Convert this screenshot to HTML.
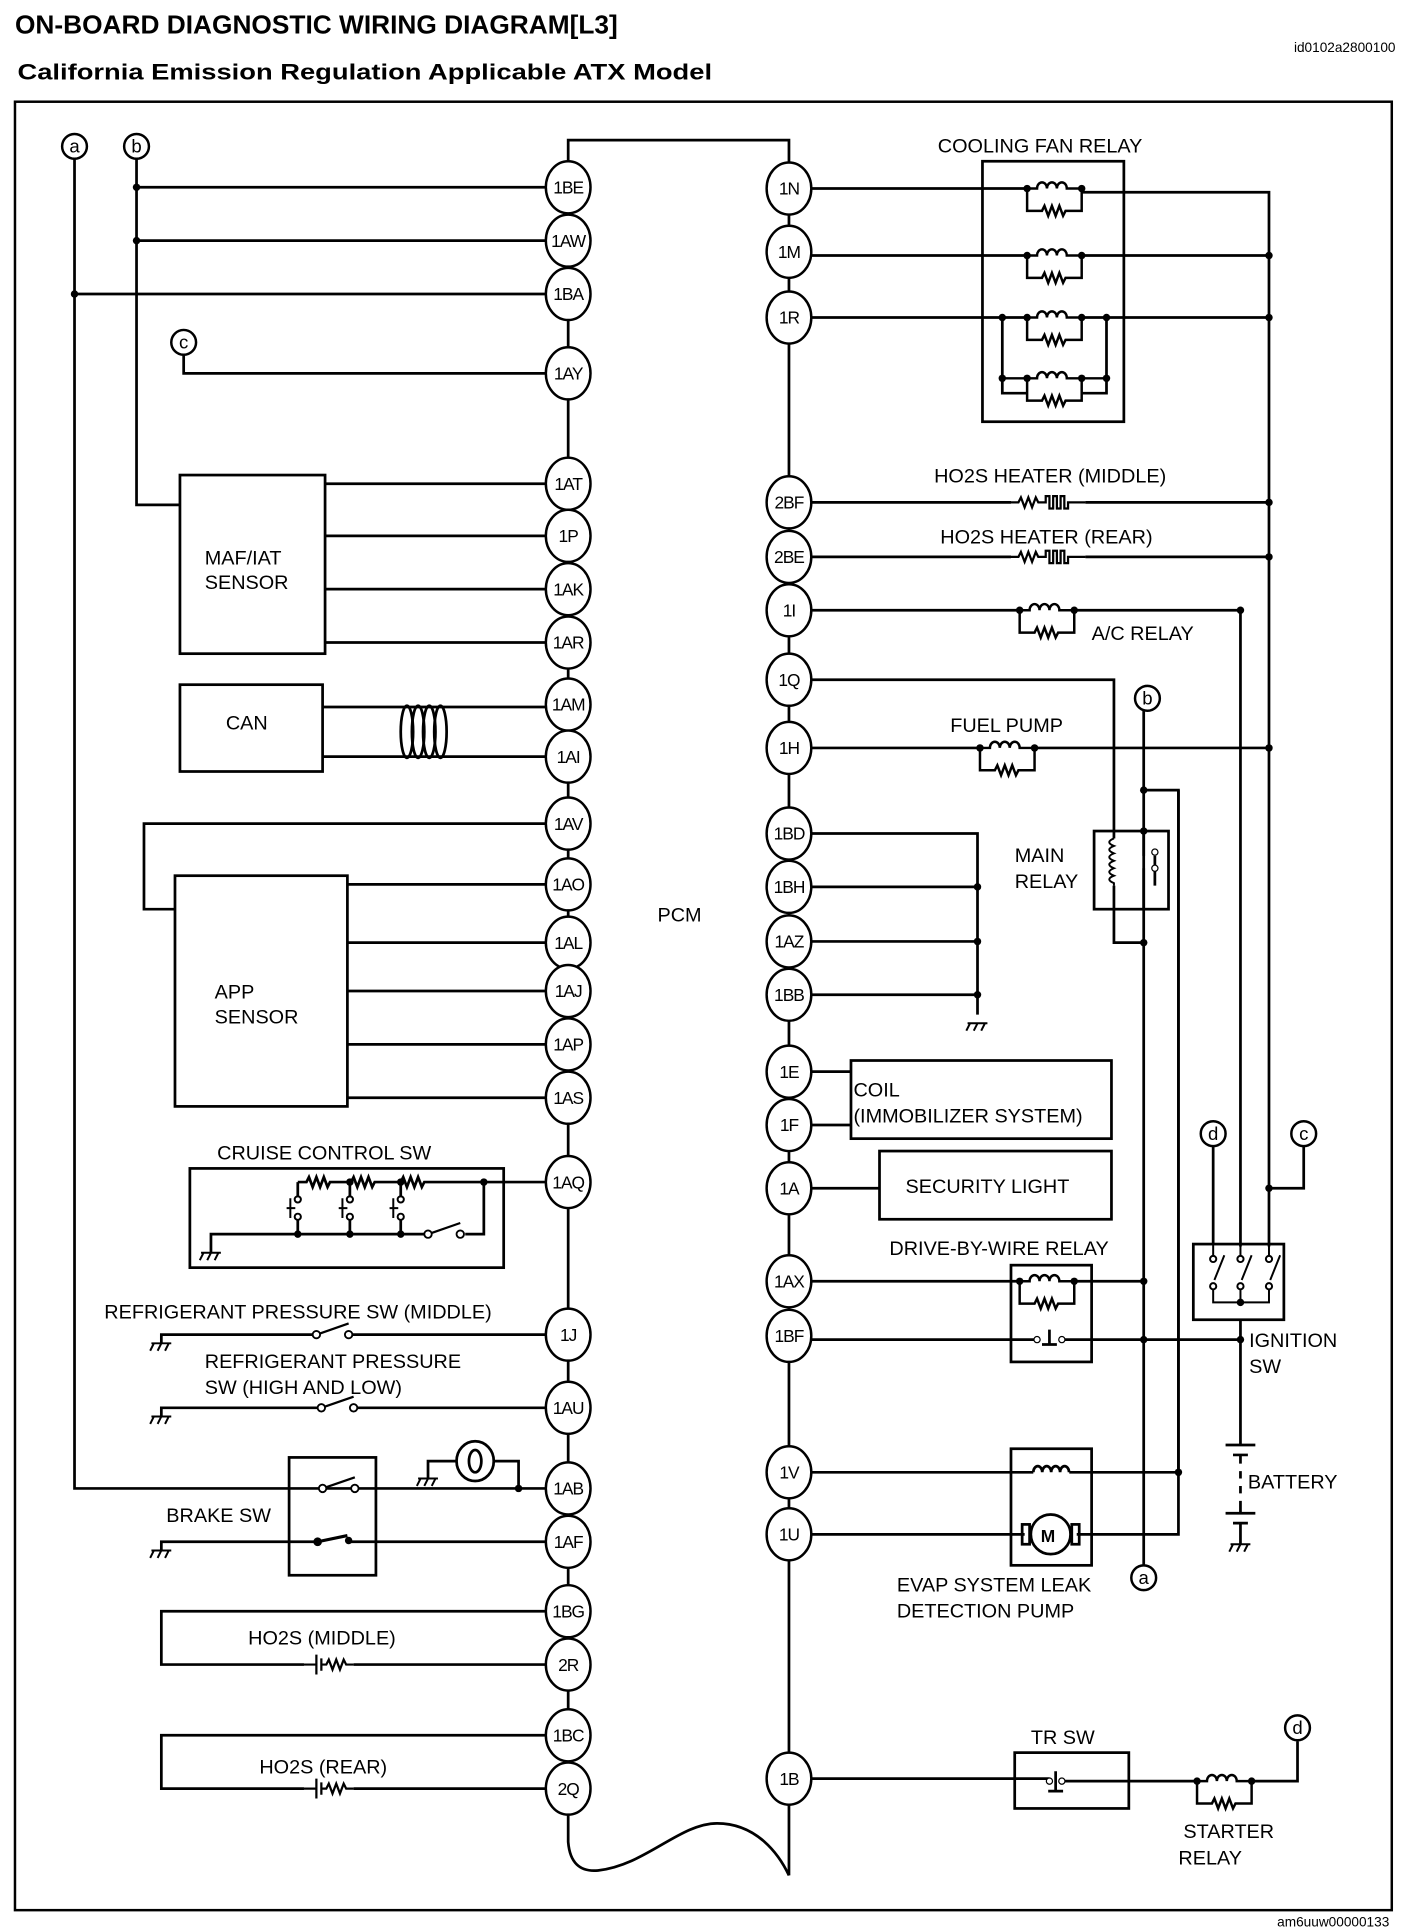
<!DOCTYPE html>
<html><head><meta charset="utf-8"><style>
html,body{margin:0;padding:0;background:#fff}
svg{display:block}
text{font-family:"Liberation Sans",sans-serif;fill:#000}
</style></head><body>
<svg width="1408" height="1930" viewBox="0 0 1135 1556" xmlns="http://www.w3.org/2000/svg">
<defs>
<g id="rel">
<path d="M0,0 H8 a4,5 0 0 1 8,0 a4,5 0 0 1 8,0 a4,5 0 0 1 8,0 H44 M0,0 V18 H12 l2,-4 l3,8 l3,-8 l3,8 l3,-8 l3,8 l2,-4 H44 V0" fill="none" stroke="#000" stroke-width="2"/>
<circle cx="0" cy="0" r="3"/><circle cx="44" cy="0" r="3"/>
</g>
<g id="gnd"><path d="M-8,0 H8 M-6,0 l-3,6 M0,0 l-3,6 M6,0 l-3,6" stroke="#000" stroke-width="1.6" fill="none"/></g>
<g id="htr"><path d="M0,0 H6 l2,-4 l3,8 l3,-8 l3,8 l3,-8 l2,4 H28 v-5 h3 v10 h3 v-10 h3 v10 h3 v-10 h3 v10 h3 v-5 H60" fill="none" stroke="#000" stroke-width="1.8"/></g>
<g id="o2"><path d="M0,0 H10 M10,-8 V8 M14,-5 V5 M14,0 H18 l2,-4 l3,8 l3,-8 l3,8 l3,-8 l2,4 H40" fill="none" stroke="#000" stroke-width="1.8"/></g>
<g id="sw"><circle cx="0" cy="0" r="3" fill="#fff" stroke="#000" stroke-width="1.5"/><circle cx="26" cy="0" r="3" fill="#fff" stroke="#000" stroke-width="1.5"/><path d="M3,-1 L26,-9" stroke="#000" stroke-width="1.8"/></g>
</defs>

<text x="12" y="27" font-size="21" font-weight="bold" textLength="486" lengthAdjust="spacingAndGlyphs">ON-BOARD DIAGNOSTIC WIRING DIAGRAM[L3]</text>
<text x="1125" y="42" font-size="11" text-anchor="end">id0102a2800100</text>
<text x="14" y="64" font-size="18" font-weight="bold" textLength="560" lengthAdjust="spacingAndGlyphs">California Emission Regulation Applicable ATX Model</text>
<text x="1120" y="1553" font-size="11" text-anchor="end">am6uuw00000133</text>

<rect x="12" y="82" width="1110" height="1458" fill="none" stroke="#000" stroke-width="2"/>

<g fill="none" stroke="#000" stroke-width="2.2">
<path d="M458,151 V113 H636 V1512"/>
<path d="M458,151 V1462 V1485 Q460,1510 482,1508 C520,1504 548,1470 578,1470 C610,1470 628,1495 636,1512"/>
<path d="M60,128 V1200 H440"/>
<path d="M110,128 V407 H145"/>
<path d="M110,151 H440 M110,194 H440 M60,237 H440"/>
<path d="M148,286 V301 H440"/>
<rect x="145" y="383" width="117" height="144"/>
<path d="M262,390 H440 M262,432 H440 M262,475 H440 M262,518 H440"/>
<rect x="145" y="552" width="115" height="70"/>
<path d="M260,570 H440 M260,610 H440"/>
<ellipse cx="328" cy="590" rx="5" ry="21"/><ellipse cx="337" cy="590" rx="5" ry="21"/><ellipse cx="346" cy="590" rx="5" ry="21"/><ellipse cx="355" cy="590" rx="5" ry="21"/>
<path d="M440,664 H116 V733 H141"/>
<rect x="141" y="706" width="139" height="186"/>
<path d="M280,713 H440 M280,760 H440 M280,799 H440 M280,842 H440 M280,885 H440"/>
<rect x="153" y="942" width="253" height="80"/>
<path d="M440,953 H390 V995 H375 M240,953 V965 M240,953 H247 l2,-4 l3,8 l3,-8 l3,8 l3,-8 l3,8 l2,-4 H283 l2,-4 l3,8 l3,-8 l3,8 l3,-8 l3,8 l2,-4 H323 l2,-4 l3,8 l3,-8 l3,8 l3,-8 l3,8 l2,-4 H390"/>
<path d="M282,953 V965 M323,953 V965 M240,983 V995 M282,983 V995 M323,983 V995 M170,1010 V995 H345"/>
<path d="M234,966 V982 M276,966 V982 M317,966 V982 M231,974 H238 M273,974 H280 M314,974 H321" stroke-width="1.6"/>
<path d="M130,1083 V1076 H255 M281,1076 H440"/>
<path d="M130,1142 V1135 H259 M285,1135 H440"/>
<rect x="233" y="1175" width="70" height="95"/>
<path d="M130,1250 V1243 H255 M282,1243 H440"/>
<path d="M345,1192 V1178 H368 M398,1178 H418 V1200"/>
<ellipse cx="383" cy="1178" rx="15" ry="16"/>
<ellipse cx="383" cy="1178" rx="5" ry="9"/>
<path d="M440,1299 H130 V1342 H245 M285,1342 H440"/>
<path d="M440,1399 H130 V1442 H245 M285,1442 H440"/>

<rect x="792" y="130" width="114" height="210"/>
<path d="M654,152 H828 M872,155 H1023 V1005"/>
<path d="M654,206 H828 M872,206 H1023"/>
<path d="M654,256 H828 M872,256 H1023 M808,256 V317 H828 M892,256 V317 H872"/>
<path d="M654,405 H815 M875,405 H1023 M654,449 H815 M875,449 H1023"/>
<path d="M654,492 H822 M866,492 H1000 V1005"/>
<path d="M654,548 H898 V676 M898,714 V760 H922"/>
<path d="M654,603 H790 M834,603 H1023"/>
<path d="M922,573 V1262 M922,637 H950 V1187"/>
<rect x="882" y="670" width="60" height="63"/>
<path d="M898,676 c-5,2 -5,4 0,6 c-5,2 -5,4 0,6 c-5,2 -5,4 0,6 c-5,2 -5,4 0,6 c-5,2 -5,4 0,6 c-5,2 -5,4 0,6 v2" stroke-width="1.6"/>
<path d="M931,690 V714 M922,670 V690 M922,700 V733"/>
<path d="M654,672 H788 V818 M654,715 H788 M654,759 H788 M654,802 H788"/>
<rect x="686" y="855" width="210" height="63"/>
<path d="M654,864 H686 M654,907 H686"/>
<rect x="709" y="928" width="187" height="55"/>
<path d="M654,958 H709"/>
<rect x="815" y="1020" width="65" height="78"/>
<path d="M654,1033 H822 M866,1033 H922"/>
<path d="M654,1080 H836 M856,1080 H1000 M846,1072 V1084 M840,1084 H852"/>
<path d="M978,924 V1003 M1051,924 V958 H1023"/>
<rect x="962" y="1003" width="73" height="61"/>
<path d="M1000,1064 V1165 M988,1165 H1012 M994,1173 H1006 M1000,1173 V1180 M1000,1186 V1192 M1000,1198 V1204 M1000,1210 V1220 M988,1220 H1012 M994,1228 H1006 M1000,1228 V1245"/>
<rect x="815" y="1168" width="65" height="94"/>
<path d="M654,1187 H833 M862,1187 H950 M654,1237 H826 M868,1237 H950 V637"/>
<circle cx="847" cy="1237" r="16"/>
<rect x="824" y="1229" width="6" height="16"/><rect x="864" y="1229" width="6" height="16"/>
<path d="M833,1187 a3.6,5 0 0 1 7.2,0 a3.6,5 0 0 1 7.2,0 a3.6,5 0 0 1 7.2,0 a3.6,5 0 0 1 7.2,0"/>
<rect x="818" y="1413" width="92" height="45"/>
<path d="M654,1434 H846 M856,1436 H965 M1009,1436 H1046 V1404 M851,1428 V1444 M845,1444 H857"/>
</g>

<use href="#rel" x="828" y="152"/>
<use href="#rel" x="828" y="206"/>
<use href="#rel" x="828" y="256"/>
<use href="#rel" x="828" y="305"/>
<path d="M808,305 H828 M872,305 H892" stroke="#000" stroke-width="2"/>
<use href="#rel" x="822" y="492"/>
<use href="#rel" x="790" y="603"/>
<use href="#rel" x="822" y="1033"/>
<use href="#rel" x="965" y="1436"/>
<use href="#htr" x="815" y="405"/>
<use href="#htr" x="815" y="449"/>
<use href="#o2" x="245" y="1342"/>
<use href="#o2" x="245" y="1442"/>
<use href="#sw" x="255" y="1076"/>
<use href="#sw" x="259" y="1135"/>
<use href="#sw" x="345" y="995"/>
<use href="#sw" x="260" y="1200"/>
<path d="M256,1243 L280,1238" stroke="#000" stroke-width="2.5"/>
<circle cx="256" cy="1243" r="3.5"/><circle cx="281" cy="1242" r="3"/>
<circle cx="922" cy="1080" r="3"/>
<circle cx="836" cy="1080" r="2.5" fill="#fff" stroke="#000"/><circle cx="856" cy="1080" r="2.5" fill="#fff" stroke="#000"/>
<circle cx="846" cy="1436" r="2.5" fill="#fff" stroke="#000"/><circle cx="856" cy="1436" r="2.5" fill="#fff" stroke="#000"/>
<circle cx="931" cy="687" r="2.5" fill="#fff" stroke="#000"/><circle cx="931" cy="700" r="2.5" fill="#fff" stroke="#000"/>
<g stroke="#000" stroke-width="1.6" fill="#fff">
<path d="M978,1003 V1015 M1000,1003 V1015 M1023,1003 V1015 M978,1040 V1050 H1023 V1040 M1000,1040 V1050" fill="none"/>
<path d="M979,1032 L987,1012 M1001,1032 L1009,1012 M1024,1032 L1032,1012" fill="none"/>
<circle cx="978" cy="1015" r="2.5"/><circle cx="1000" cy="1015" r="2.5"/><circle cx="1023" cy="1015" r="2.5"/>
<circle cx="978" cy="1037" r="2.5"/><circle cx="1000" cy="1037" r="2.5"/><circle cx="1023" cy="1037" r="2.5"/>
<circle cx="240" cy="967" r="2.5"/><circle cx="282" cy="967" r="2.5"/><circle cx="323" cy="967" r="2.5"/>
<circle cx="240" cy="981" r="2.5"/><circle cx="282" cy="981" r="2.5"/><circle cx="323" cy="981" r="2.5"/>
</g>
<g>
<circle cx="110" cy="151" r="3"/><circle cx="110" cy="194" r="3"/><circle cx="60" cy="237" r="3"/>
<circle cx="1023" cy="206" r="3"/><circle cx="1023" cy="256" r="3"/><circle cx="1023" cy="405" r="3"/><circle cx="1023" cy="449" r="3"/><circle cx="1023" cy="603" r="3"/>
<circle cx="808" cy="256" r="3"/><circle cx="892" cy="256" r="3"/><circle cx="808" cy="305" r="3"/><circle cx="892" cy="305" r="3"/>
<circle cx="1000" cy="492" r="3"/>
<circle cx="922" cy="637" r="3"/><circle cx="922" cy="670" r="3"/><circle cx="922" cy="760" r="3"/>
<circle cx="788" cy="715" r="3"/><circle cx="788" cy="759" r="3"/><circle cx="788" cy="802" r="3"/>
<circle cx="922" cy="1033" r="3"/><circle cx="1000" cy="1080" r="3"/><circle cx="1000" cy="1050" r="3"/><circle cx="1023" cy="958" r="3"/>
<circle cx="950" cy="1187" r="3"/>
<circle cx="390" cy="953" r="3"/><circle cx="282" cy="953" r="3"/><circle cx="323" cy="953" r="3"/>
<circle cx="240" cy="995" r="3"/><circle cx="282" cy="995" r="3"/><circle cx="323" cy="995" r="3"/>
<circle cx="418" cy="1200" r="3"/>
</g>
<use href="#gnd" x="788" y="825"/>
<use href="#gnd" x="170" y="1010"/>
<use href="#gnd" x="130" y="1083"/>
<use href="#gnd" x="130" y="1142"/>
<use href="#gnd" x="130" y="1250"/>
<use href="#gnd" x="345" y="1192"/>
<use href="#gnd" x="1000" y="1245"/>

<g fill="#fff" stroke="#000" stroke-width="2">
<ellipse cx="458" cy="151" rx="18" ry="21"/><ellipse cx="458" cy="194" rx="18" ry="21"/><ellipse cx="458" cy="237" rx="18" ry="21"/>
<ellipse cx="458" cy="301" rx="18" ry="21"/><ellipse cx="458" cy="390" rx="18" ry="21"/><ellipse cx="458" cy="432" rx="18" ry="21"/>
<ellipse cx="458" cy="475" rx="18" ry="21"/><ellipse cx="458" cy="518" rx="18" ry="21"/><ellipse cx="458" cy="568" rx="18" ry="21"/>
<ellipse cx="458" cy="610" rx="18" ry="21"/><ellipse cx="458" cy="664" rx="18" ry="21"/><ellipse cx="458" cy="713" rx="18" ry="21"/>
<ellipse cx="458" cy="760" rx="18" ry="21"/><ellipse cx="458" cy="799" rx="18" ry="21"/><ellipse cx="458" cy="842" rx="18" ry="21"/>
<ellipse cx="458" cy="885" rx="18" ry="21"/><ellipse cx="458" cy="953" rx="18" ry="21"/><ellipse cx="458" cy="1076" rx="18" ry="21"/>
<ellipse cx="458" cy="1135" rx="18" ry="21"/><ellipse cx="458" cy="1200" rx="18" ry="21"/><ellipse cx="458" cy="1243" rx="18" ry="21"/>
<ellipse cx="458" cy="1299" rx="18" ry="21"/><ellipse cx="458" cy="1342" rx="18" ry="21"/><ellipse cx="458" cy="1399" rx="18" ry="21"/>
<ellipse cx="458" cy="1442" rx="18" ry="21"/>
<ellipse cx="636" cy="152" rx="18" ry="21"/><ellipse cx="636" cy="203" rx="18" ry="21"/><ellipse cx="636" cy="256" rx="18" ry="21"/>
<ellipse cx="636" cy="405" rx="18" ry="21"/><ellipse cx="636" cy="449" rx="18" ry="21"/><ellipse cx="636" cy="492" rx="18" ry="21"/>
<ellipse cx="636" cy="548" rx="18" ry="21"/><ellipse cx="636" cy="603" rx="18" ry="21"/><ellipse cx="636" cy="672" rx="18" ry="21"/>
<ellipse cx="636" cy="715" rx="18" ry="21"/><ellipse cx="636" cy="759" rx="18" ry="21"/><ellipse cx="636" cy="802" rx="18" ry="21"/>
<ellipse cx="636" cy="864" rx="18" ry="21"/><ellipse cx="636" cy="907" rx="18" ry="21"/><ellipse cx="636" cy="958" rx="18" ry="21"/>
<ellipse cx="636" cy="1033" rx="18" ry="21"/><ellipse cx="636" cy="1077" rx="18" ry="21"/><ellipse cx="636" cy="1187" rx="18" ry="21"/>
<ellipse cx="636" cy="1237" rx="18" ry="21"/><ellipse cx="636" cy="1434" rx="18" ry="21"/>
<circle cx="60" cy="118" r="10"/><circle cx="110" cy="118" r="10"/><circle cx="148" cy="276" r="10"/>
<circle cx="925" cy="563" r="10"/><circle cx="922" cy="1272" r="10"/><circle cx="978" cy="914" r="10"/>
<circle cx="1051" cy="914" r="10"/><circle cx="1046" cy="1393" r="10"/>
</g>
<g font-size="15" text-anchor="middle">
<text x="60" y="123">a</text><text x="110" y="123">b</text><text x="148" y="281">c</text>
<text x="925" y="568">b</text><text x="922" y="1277">a</text><text x="978" y="919">d</text>
<text x="1051" y="919">c</text><text x="1046" y="1398">d</text>
</g>
<g font-size="14" text-anchor="middle" letter-spacing="-0.8">
<text x="458" y="156">1BE</text><text x="458" y="199">1AW</text><text x="458" y="242">1BA</text><text x="458" y="306">1AY</text>
<text x="458" y="395">1AT</text><text x="458" y="437">1P</text><text x="458" y="480">1AK</text><text x="458" y="523">1AR</text>
<text x="458" y="573">1AM</text><text x="458" y="615">1AI</text><text x="458" y="669">1AV</text><text x="458" y="718">1AO</text>
<text x="458" y="765">1AL</text><text x="458" y="804">1AJ</text><text x="458" y="847">1AP</text><text x="458" y="890">1AS</text>
<text x="458" y="958">1AQ</text><text x="458" y="1081">1J</text><text x="458" y="1140">1AU</text><text x="458" y="1205">1AB</text>
<text x="458" y="1248">1AF</text><text x="458" y="1304">1BG</text><text x="458" y="1347">2R</text><text x="458" y="1404">1BC</text>
<text x="458" y="1447">2Q</text>
<text x="636" y="157">1N</text><text x="636" y="208">1M</text><text x="636" y="261">1R</text><text x="636" y="410">2BF</text>
<text x="636" y="454">2BE</text><text x="636" y="497">1I</text><text x="636" y="553">1Q</text><text x="636" y="608">1H</text>
<text x="636" y="677">1BD</text><text x="636" y="720">1BH</text><text x="636" y="764">1AZ</text><text x="636" y="807">1BB</text>
<text x="636" y="869">1E</text><text x="636" y="912">1F</text><text x="636" y="963">1A</text><text x="636" y="1038">1AX</text>
<text x="636" y="1082">1BF</text><text x="636" y="1192">1V</text><text x="636" y="1242">1U</text><text x="636" y="1439">1B</text>
</g>
<g font-size="16">
<text x="165" y="455">MAF/IAT</text><text x="165" y="475">SENSOR</text>
<text x="182" y="588">CAN</text>
<text x="173" y="805">APP</text><text x="173" y="825">SENSOR</text>
<text x="530" y="743">PCM</text>
<text x="175" y="935">CRUISE CONTROL SW</text>
<text x="84" y="1063">REFRIGERANT PRESSURE  SW (MIDDLE)</text>
<text x="165" y="1103">REFRIGERANT PRESSURE</text><text x="165" y="1124">SW (HIGH AND LOW)</text>
<text x="134" y="1227">BRAKE SW</text>
<text x="200" y="1326">HO2S (MIDDLE)</text>
<text x="209" y="1430">HO2S (REAR)</text>
<text x="756" y="123">COOLING FAN RELAY</text>
<text x="753" y="389">HO2S HEATER (MIDDLE)</text>
<text x="758" y="438">HO2S HEATER (REAR)</text>
<text x="880" y="516">A/C RELAY</text>
<text x="766" y="590">FUEL PUMP</text>
<text x="818" y="695">MAIN</text><text x="818" y="716">RELAY</text>
<text x="688" y="884">COIL</text><text x="688" y="905">(IMMOBILIZER SYSTEM)</text>
<text x="730" y="962">SECURITY LIGHT</text>
<text x="717" y="1012">DRIVE-BY-WIRE RELAY</text>
<text x="1007" y="1086">IGNITION</text><text x="1007" y="1107">SW</text>
<text x="1006" y="1200">BATTERY</text>
<text x="723" y="1283">EVAP SYSTEM LEAK</text><text x="723" y="1304">DETECTION PUMP</text>
<text x="831" y="1406">TR SW</text>
<text x="954" y="1482">STARTER</text><text x="950" y="1503">RELAY</text>
<text x="839" y="1243" font-weight="bold" font-size="14">M</text>
</g>
</svg>
</body></html>
